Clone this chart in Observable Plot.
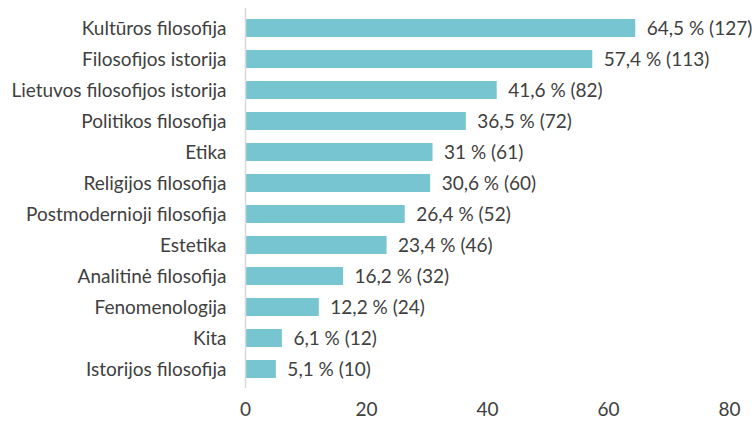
<!DOCTYPE html>
<html><head><meta charset="utf-8">
<script src="https://cdn.jsdelivr.net/npm/d3@7"></script>
<script src="https://cdn.jsdelivr.net/npm/@observablehq/plot@0.6"></script>
<style>body{margin:0;background:#fff;} svg{font-family:Lato,"Open Sans",sans-serif;}</style>
</head><body><div id="chart"></div>
<script>
const categories = ["Kultūros filosofija","Filosofijos istorija","Lietuvos filosofijos istorija","Politikos filosofija","Etika","Religijos filosofija","Postmodernioji filosofija","Estetika","Analitinė filosofija","Fenomenologija","Kita","Istorijos filosofija"];
const percents = [64.5,57.4,41.6,36.5,31,30.6,26.4,23.4,16.2,12.2,6.1,5.1];
const counts = [127,113,82,72,61,60,52,46,32,24,12,10];
const xTicks = [0,20,40,60,80];
const data = categories.map((c,i)=>({cat:c, pct:percents[i], n:counts[i], label: String(percents[i]).replace(".",",")+" % ("+counts[i]+")"}));
const chart = Plot.plot({
  width:755, height:421,
  marginLeft:245, marginRight:26, marginTop:8, marginBottom:33,
  style:{fontFamily:"Lato, 'Open Sans', sans-serif", fontSize:"19px", color:"#404040", background:"#fff"},
  x:{domain:[0,80], ticks:xTicks, tickSize:0, tickPadding:14, label:null},
  y:{domain:categories, paddingInner:0.42, paddingOuter:0.21, tickSize:0, tickPadding:19, label:null},
  marks:[
    Plot.barX(data,{x:"pct", y:"cat", fill:"#77c5d0"}),
    Plot.ruleX([0],{stroke:"#d9d9d9", strokeWidth:1.5}),
    Plot.text(data,{x:"pct", y:"cat", text:"label", textAnchor:"start", dx:11, fill:"#404040", fontSize:19}),
  ]
});
document.getElementById("chart").appendChild(chart);
</script></body></html>
